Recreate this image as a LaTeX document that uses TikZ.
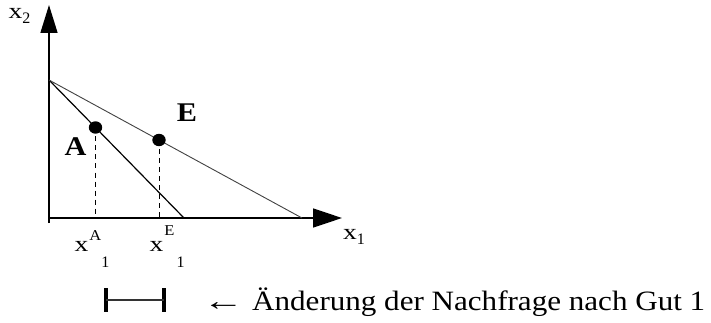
\documentclass[tikz,border=0pt]{standalone}
\usepackage{fontspec}
\setmainfont{Liberation Serif}
\usepackage{graphicx}
\usetikzlibrary{arrows.meta}
\newcommand{\fsz}[1]{\fontsize{#1}{#1}\selectfont}
\newcommand{\xg}{\scalebox{1.25}[1]{\fsz{22}x}}
\begin{document}
\begin{tikzpicture}[x=1pt,y=-1pt,
  axis/.style={line width=1.5pt},
  budget/.style={line width=1.2pt},
  budgetthin/.style={line width=0.9pt, black!75},
  guide/.style={line width=1pt, dash pattern=on 5pt off 4pt},
  lbl/.style={inner sep=0pt, anchor=base west},
  bold/.style={inner sep=0pt},
  bar/.style={line width=4pt},
]
\useasboundingbox (0,0) rectangle (711,323);
% axes
\coordinate (Ybot) at (49,223);
\coordinate (Ytop) at (49,5);
\coordinate (Xl) at (49,218);
\coordinate (Xr) at (342,218);
\draw[axis, -{Triangle[length=28pt,width=17pt]}] (Ybot) -- (Ytop);
\draw[axis, -{Triangle[length=29pt,width=19pt]}] (Xl) -- (Xr);
% budget lines
\coordinate (P) at (49,80);
\coordinate (S) at (184,218);
\coordinate (T) at (302,218);
\draw[budget] (P) -- (S);
\draw[budgetthin] (P) -- (T);
% points
\coordinate (A) at (95.5,127.5);
\coordinate (E) at (159,140);
\coordinate (Ab) at (95.5,218);
\coordinate (Eb) at (159,218);
\draw[guide] (A) -- (Ab);
\draw[guide] (E) -- (Eb);
\fill (A) ellipse [x radius=6.7pt, y radius=6.2pt];
\fill (E) ellipse [x radius=6.7pt, y radius=6.2pt];
\node[bold] (Alab) at (75.5,147) {\scalebox{1.12}[1]{\fsz{27}\bfseries A}};
\node[bold] (Elab) at (187,112.5) {\scalebox{1.12}[1]{\fsz{27}\bfseries E}};
% axis labels
\node[lbl] (x2) at (8.5,19) {\xg\raisebox{-5pt}{\fsz{16}2}};
\node[lbl] (x1) at (343,239) {\xg\raisebox{-5pt}{\fsz{16}1}};
\node[lbl] (xA) at (74.5,251.5) {\xg\hspace{1pt}\raisebox{11pt}{\scalebox{1.1}[1]{\fsz{15}A}}\raisebox{-16pt}{\fsz{16}1}};
\node[lbl] (xE) at (149.5,251.5) {\xg\hspace{1pt}\raisebox{16pt}{\scalebox{1.1}[1]{\fsz{15}E}}\hspace{2pt}\raisebox{-16pt}{\fsz{16}1}};
% change marker
\coordinate (L1) at (106,288);
\coordinate (L2) at (106,312);
\coordinate (R1) at (164,288);
\coordinate (R2) at (164,312);
\coordinate (Lm) at (106,300);
\coordinate (Rm) at (164,300);
\draw[bar] (L1) -- (L2);
\draw[bar] (R1) -- (R2);
\draw[line width=1.1pt, black!80] (Lm) -- (Rm);
\node[lbl] (txt) at (211,310) {\makebox[41pt][l]{\hspace*{-8.6pt}\scalebox{1.48}[1]{\fsz{28}←}}\scalebox{1.11}[1]{\fsz{28}Änderung der Nachfrage nach Gut 1}};
\end{tikzpicture}
\end{document}
